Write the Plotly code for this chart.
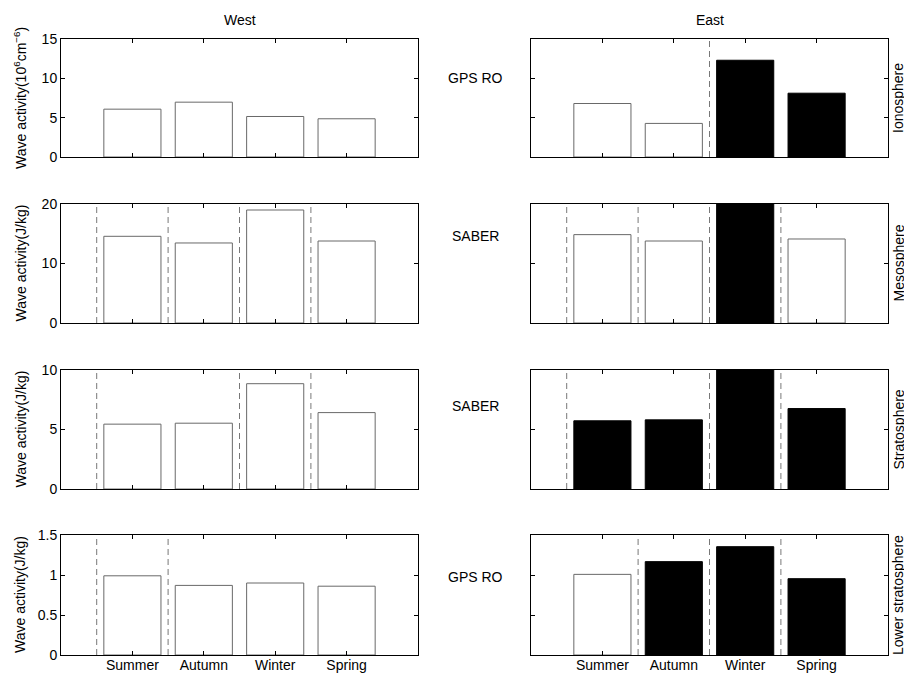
import plotly.graph_objects as go

OFF = 8  # page body margin compensation (px)
W, H = 912 - OFF, 677 - OFF

seasons = ["Summer", "Autumn", "Winter", "Spring"]
x_pos = [1, 2, 3, 4]

# values per row (top to bottom), west and east
west_values = [
    [6.08, 6.97, 5.15, 4.86],
    [14.57, 13.45, 18.99, 13.78],
    [5.45, 5.53, 8.85, 6.42],
    [0.99, 0.87, 0.90, 0.86],
]
east_values = [
    [6.8, 4.27, 12.3, 8.11],
    [14.85, 13.78, 21.0, 14.12],
    [5.73, 5.81, 10.5, 6.76],
    [1.008, 1.167, 1.354, 0.954],
]
# filled (black) flags
west_filled = [
    [0, 0, 0, 0],
    [0, 0, 0, 0],
    [0, 0, 0, 0],
    [0, 0, 0, 0],
]
east_filled = [
    [0, 0, 1, 1],
    [0, 0, 1, 0],
    [1, 1, 1, 1],
    [0, 1, 1, 1],
]
# dashed separator positions
west_dashes = [[], [0.5, 1.5, 2.5, 3.5], [0.5, 2.5, 3.5], [0.5, 1.5]]
east_dashes = [[2.5], [0.5, 1.5, 2.5, 3.5], [0.5, 2.5, 3.5], [1.5, 2.5, 3.5]]

y_max = [15, 20, 10, 1.5]
y_dtick = [5, 10, 5, 0.5]
left_titles = [
    "Wave activity(10<sup>6</sup>cm<sup>−6</sup>)",
    "Wave activity(J/kg)",
    "Wave activity(J/kg)",
    "Wave activity(J/kg)",
]
mid_labels = ["GPS RO", "SABER", "SABER", "GPS RO"]
right_labels = ["Ionosphere", "Mesosphere", "Stratosphere", "Lower stratosphere"]
col_titles = ["West", "East"]

# pixel geometry (screen px)
col_px = [(61, 418), (531, 888)]
row_px = [(39, 157), (204, 323), (370, 489), (535, 655)]
mid_y_px = [78, 236, 406, 577]


def px_x(x):
    return (x - OFF) / W


def px_y(y):
    return 1 - (y - OFF) / H


FONT = "Liberation Sans, Arial, Helvetica, sans-serif"

fig = go.Figure()
layout = dict(
    width=W, height=H, margin=dict(l=0, r=0, t=0, b=0),
    paper_bgcolor="white", plot_bgcolor="white",
    showlegend=False, bargap=0.2,
    font=dict(family=FONT, size=14, color="black"),
)
annotations = []

idx = 0
for r in range(4):
    for c in range(2):
        idx += 1
        xa = "x" if idx == 1 else f"x{idx}"
        ya = "y" if idx == 1 else f"y{idx}"
        vals = west_values[r] if c == 0 else east_values[r]
        filled = west_filled[r] if c == 0 else east_filled[r]
        dashes = west_dashes[r] if c == 0 else east_dashes[r]
        fills = ["black" if f else "white" for f in filled]
        lines = ["black" if f else "rgb(105,105,105)" for f in filled]
        for d in dashes:
            fig.add_trace(go.Scatter(
                x=[d, d], y=[0, y_max[r]], mode="lines",
                line=dict(color="rgb(120,120,120)", width=1, dash="6px,4px"),
                xaxis=xa, yaxis=ya, hoverinfo="skip"))
        fig.add_trace(go.Bar(
            x=x_pos, y=vals, width=0.8,
            marker=dict(color=fills, line=dict(color=lines, width=1)),
            xaxis=xa, yaxis=ya))
        x0, x1 = col_px[c]
        y0, y1 = row_px[r]
        xkey = "xaxis" if idx == 1 else f"xaxis{idx}"
        ykey = "yaxis" if idx == 1 else f"yaxis{idx}"
        layout[xkey] = dict(
            domain=[px_x(x0), px_x(x1)], anchor=ya, range=[0, 5],
            tickvals=x_pos, ticktext=seasons,
            showticklabels=(r == 3), ticks="inside", ticklen=4,
            ticklabelstandoff=-3,
            tickcolor="black", showline=True, linecolor="black",
            linewidth=1, mirror="ticks", showgrid=False, zeroline=False,
            fixedrange=True, automargin=False,
        )
        layout[ykey] = dict(
            domain=[px_y(y1), px_y(y0)], anchor=xa,
            range=[0, y_max[r]], dtick=y_dtick[r], tick0=0,
            showticklabels=(c == 0), ticks="inside", ticklen=4,
            tickcolor="black", showline=True, linecolor="black",
            linewidth=1, mirror="ticks", showgrid=False, zeroline=False,
            fixedrange=True, automargin=False,
        )
    yc = px_y((row_px[r][0] + row_px[r][1]) / 2)
    annotations.append(dict(
        text=left_titles[r], x=px_x(20), y=yc, xref="paper", yref="paper",
        textangle=-90, showarrow=False, xanchor="center", yanchor="middle",
        font=dict(size=14)))
    annotations.append(dict(
        text=right_labels[r], x=px_x(898), y=yc, xref="paper", yref="paper",
        textangle=-90, showarrow=False, xanchor="center", yanchor="middle",
        font=dict(size=14)))
    annotations.append(dict(
        text=mid_labels[r], x=px_x(475), y=px_y(mid_y_px[r]),
        xref="paper", yref="paper", showarrow=False,
        xanchor="center", yanchor="middle", font=dict(size=14)))

for c in range(2):
    annotations.append(dict(
        text=col_titles[c], x=px_x((col_px[c][0] + col_px[c][1]) / 2),
        y=px_y(20), xref="paper", yref="paper", showarrow=False,
        xanchor="center", yanchor="middle", font=dict(size=14)))

layout["annotations"] = annotations
fig.update_layout(**layout)
fig.write_html("out.html")
